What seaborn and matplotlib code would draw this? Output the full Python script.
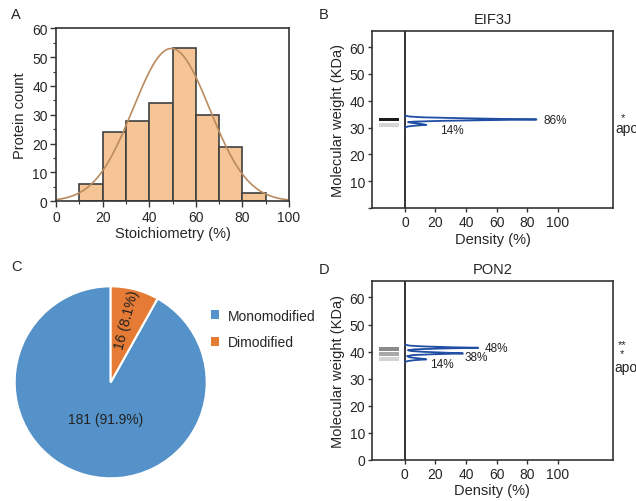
import numpy as np
import pandas as pd
import matplotlib
matplotlib.use("Agg")
import matplotlib.pyplot as plt
from matplotlib.patches import Patch
from matplotlib.ticker import MultipleLocator
import seaborn as sns

# ---------------- data ----------------
bin_edges = [10, 20, 30, 40, 50, 60, 70, 80, 90]
bin_counts = [6, 24, 28, 34, 53, 30, 19, 3]
fit_peak = 53

pie_labels = ["Monomodified", "Dimodified"]
pie_counts = [181, 16]
pie_pcts = [91.9, 8.1]

eif3j_title = "EIF3J"
eif3j_mw = [34.5, 34.1, 33.8, 33.5, 33.2, 33.0, 32.8, 32.5, 32.2, 32.0, 31.7, 31.4, 31.0, 30.7, 30.4, 30.0]
eif3j_density = [0, 3, 12, 35, 65, 86, 60, 25, 6, 2, 5, 10, 14, 7, 2, 0]
eif3j_band_mw = [33.0, 31.1]
eif3j_band_colors = ["#1c1c1c", "#d6d6d6"]
eif3j_labels = ["86%", "14%"]
eif3j_label_x = [98, 30.5]
eif3j_label_y = [32.7, 29.2]
eif3j_marks = ["*"]
eif3j_mark_y = [34.0]
eif3j_apo_y = 30.0

pon2_title = "PON2"
pon2_mw = [42.6, 42.2, 41.9, 41.6, 41.4, 41.1, 40.8, 40.5, 40.2, 39.9, 39.6, 39.3, 39.0, 38.7,
           38.3, 37.9, 37.6, 37.3, 37.1, 36.8, 36.5, 36.1]
pon2_density = [0, 3, 12, 30, 48, 22, 6, 2, 4, 12, 26, 38, 18, 5,
                1.5, 3, 7, 12, 14, 6, 2, 0]
pon2_band_mw = [41.0, 39.2, 37.1]
pon2_band_colors = ["#8a8a8a", "#a9a9a9", "#d4d4d4"]
pon2_labels = ["48%", "38%", "14%"]
pon2_label_x = [60, 46.6, 24]
pon2_label_y = [41.3, 37.9, 35.5]
pon2_marks = ["**", "*"]
pon2_mark_y = [42.8, 39.3]
pon2_apo_y = 34.3

density_ticks = [0, 20, 40, 60, 80, 100]

# ---------------- style ----------------
sns.set_theme(style="white")
plt.rcParams["font.family"] = ["Liberation Sans", "DejaVu Sans"]
plt.rcParams["font.size"] = 10
EDGE = "#333333"

fig = plt.figure(figsize=(6.36, 5.02), dpi=100)

# ---------------- Panel A ----------------
axA = fig.add_axes([0.0881, 0.597, 0.3664, 0.3446])
centers = [(a + b) / 2 for a, b in zip(bin_edges[:-1], bin_edges[1:])]
sns.histplot(x=centers, weights=bin_counts, bins=bin_edges, ax=axA,
             color="#f5c595", alpha=1, edgecolor="#404040", linewidth=1.2)
vals = np.repeat(centers, bin_counts)
mu, sd = vals.mean(), vals.std()
xs = np.linspace(0, 100, 300)
sns.lineplot(x=xs, y=fit_peak * np.exp(-(xs - mu) ** 2 / (2 * sd ** 2)), ax=axA,
             color="#b98b5e", linewidth=1.2)
axA.set_xlim(0, 100)
axA.set_ylim(0, 60)
axA.xaxis.set_major_locator(MultipleLocator(20))
axA.xaxis.set_minor_locator(MultipleLocator(10))
axA.yaxis.set_major_locator(MultipleLocator(10))
axA.yaxis.set_minor_locator(MultipleLocator(5))
axA.tick_params(which="major", direction="out", length=4, width=1, color=EDGE,
                labelsize=10, pad=2, left=True, bottom=True)
axA.tick_params(which="minor", direction="out", length=2.5, width=0.8, color=EDGE,
                left=True, bottom=True)
axA.set_xlabel("Stoichiometry (%)", fontsize=10.5, labelpad=2)
axA.set_ylabel("Protein count", fontsize=10.5, labelpad=4)
for s in axA.spines.values():
    s.set_color(EDGE)
    s.set_linewidth(1.2)

# ---------------- Panel C (pie) ----------------
axC = fig.add_axes([0.0231, 0.0452, 0.3019, 0.3825])
wedges, _ = axC.pie(pie_counts, colors=["#5592c9", "#e57b34"], startangle=90,
                    counterclock=True, wedgeprops=dict(edgecolor="white", linewidth=1.5))
axC.set_xlim(-1, 1)
axC.set_ylim(-1, 1)
axC.set_aspect("equal")
label_dist = [0.40, 0.68]
for w, c, p, d in zip(wedges, pie_counts, pie_pcts, label_dist):
    ang = (w.theta1 + w.theta2) / 2
    x, y = d * np.cos(np.deg2rad(ang)), d * np.sin(np.deg2rad(ang))
    rot = 0 if p > 50 else ang
    axC.text(x + (0.05 if p > 50 else 0), y, f"{c} ({p}%)", ha="center", va="center",
             rotation=rot, rotation_mode="anchor", fontsize=10, color="#222222",
             family=["Liberation Sans", "DejaVu Sans"])
handles = [Patch(facecolor=w.get_facecolor(), edgecolor="none") for w in wedges]
fig.legend(handles, pie_labels, loc="upper left", bbox_to_anchor=(0.312, 0.408),
           frameon=False, fontsize=10, handlelength=0.6, handleheight=0.6,
           handletextpad=0.6, labelspacing=0.9)

# ---------------- Panels B, D ----------------
def density_panel(rect, title, mw, dens, band_mw, band_colors, labels, lx, ly,
                  marks, mark_y, apo_y, show_zero):
    ax = fig.add_axes(rect)
    ax.barh(y=band_mw, width=13, left=-16.8, height=1.45, color=band_colors,
            edgecolor="none", linewidth=0)
    ax.axvline(0, color="#111111", linewidth=1.2)
    sns.lineplot(x=dens, y=mw, sort=False, estimator=None, ax=ax,
                 color="#1f4ea3", linewidth=1.3)
    for t, x, y in zip(labels, lx, ly):
        ax.text(x, y, t, ha="center", va="center", fontsize=8.5, color="#222222")
    for t, y in zip(marks, mark_y):
        ax.text(1.04, y, t, transform=ax.get_yaxis_transform(), ha="center",
                va="center", fontsize=8, clip_on=False)
    ax.text(1.008, apo_y, "apo", transform=ax.get_yaxis_transform(), ha="left",
            va="center", fontsize=10, clip_on=False)
    ax.set_xlim(-21.5, 136)
    ax.set_ylim(0, 66)
    ax.set_xticks(density_ticks)
    ax.set_yticks([0, 10, 20, 30, 40, 50, 60])
    if not show_zero:
        ax.set_yticklabels(["", "10", "20", "30", "40", "50", "60"])
    ax.tick_params(direction="out", length=3, width=1, color=EDGE, labelsize=10,
                   pad=2, left=True, bottom=True)
    ax.set_title(title, fontsize=10.5, pad=6)
    ax.set_xlabel("Density (%)", fontsize=10.5, labelpad=2)
    ax.set_ylabel("Molecular weight (KDa)", fontsize=10.5, labelpad=3)
    for s in ax.spines.values():
        s.set_color(EDGE)
        s.set_linewidth(1.2)
    return ax

density_panel([0.5849, 0.5837, 0.3789, 0.3526], eif3j_title, eif3j_mw, eif3j_density,
              eif3j_band_mw, eif3j_band_colors, eif3j_labels, eif3j_label_x, eif3j_label_y,
              eif3j_marks, eif3j_mark_y, eif3j_apo_y, False)
density_panel([0.5849, 0.0823, 0.3785, 0.3554], pon2_title, pon2_mw, pon2_density,
              pon2_band_mw, pon2_band_colors, pon2_labels, pon2_label_x, pon2_label_y,
              pon2_marks, pon2_mark_y, pon2_apo_y, True)

# panel letters
for lab, x, y in [("A", 16, 15), ("B", 324, 15), ("C", 16, 267), ("D", 324, 270)]:
    fig.text(x / 636, 1 - y / 502, lab, ha="center", va="center", fontsize=10.5)

fig.savefig("out.png", dpi=100)
